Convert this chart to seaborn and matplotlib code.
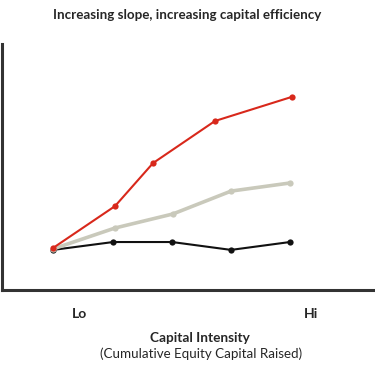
import pandas as pd
import matplotlib.pyplot as plt
import seaborn as sns

sns.set_style('white')
plt.rcParams['font.family'] = ['Lato', 'DejaVu Sans']

# capital intensity (arbitrary units) and value created for each company type
red_x = [13.7, 30.3, 40.5, 57.1, 77.7]
red_y = [17.1, 34.1, 51.6, 68.7, 78.5]
gray_x = [13.7, 30.3, 45.8, 61.4, 77.2]
gray_y = [16.7, 25.2, 30.9, 40.2, 43.5]
black_x = [13.7, 29.8, 45.6, 61.4, 77.2]
black_y = [16.3, 19.5, 19.5, 16.3, 19.5]

tick_pos = [20.9, 82.8]
tick_labels = ['Lo', 'Hi']


def main():
    frames = []
    for name, xs, ys in [('black', black_x, black_y), ('gray', gray_x, gray_y),
                         ('red', red_x, red_y)]:
        frames.append(pd.DataFrame({'x': xs, 'y': ys, 'series': name}))
    data = pd.concat(frames, ignore_index=True)

    fig = plt.figure(figsize=(3.75, 3.66), dpi=100)
    ax = fig.add_axes([2 / 375, 1 - 290 / 366, 373 / 375, 246 / 366])

    palette = {'black': '#111111', 'gray': '#c9c9bb', 'red': '#d8281b'}
    widths = {'black': 1.5, 'gray': 2.6, 'red': 1.5}
    for name in ['black', 'gray', 'red']:
        sub = data[data['series'] == name]
        sns.lineplot(data=sub, x='x', y='y', color=palette[name], marker='o',
                     markersize=4.5, markeredgewidth=0, linewidth=widths[name],
                     sort=False, ax=ax, legend=False)

    ax.set_xlim(0, 100)
    ax.set_ylim(0, 100)
    ax.set_yticks([])
    ax.set_xticks(tick_pos)
    ax.set_xticklabels(tick_labels, fontsize=10, fontweight='bold')
    ax.tick_params(axis='x', length=0, pad=13)
    ax.set_xlabel('')
    ax.set_ylabel('')
    for side in ['top', 'right']:
        ax.spines[side].set_visible(False)
    for side in ['left', 'bottom']:
        ax.spines[side].set_color('#333333')
        ax.spines[side].set_linewidth(2.2)

    fig.text(187 / 375, 1 - 15 / 366, 'Increasing slope, increasing capital efficiency',
             ha='center', va='center', fontsize=9.6, fontweight='bold')
    fig.text(200 / 375, 1 - 338 / 366, 'Capital Intensity',
             ha='center', va='center', fontsize=9.8, fontweight='bold')
    fig.text(201 / 375, 1 - 354 / 366, '(Cumulative Equity Capital Raised)',
             ha='center', va='center', fontsize=9.6)

    fig.savefig('out.png', dpi=100)
    plt.close()


if __name__ == '__main__':
    main()
